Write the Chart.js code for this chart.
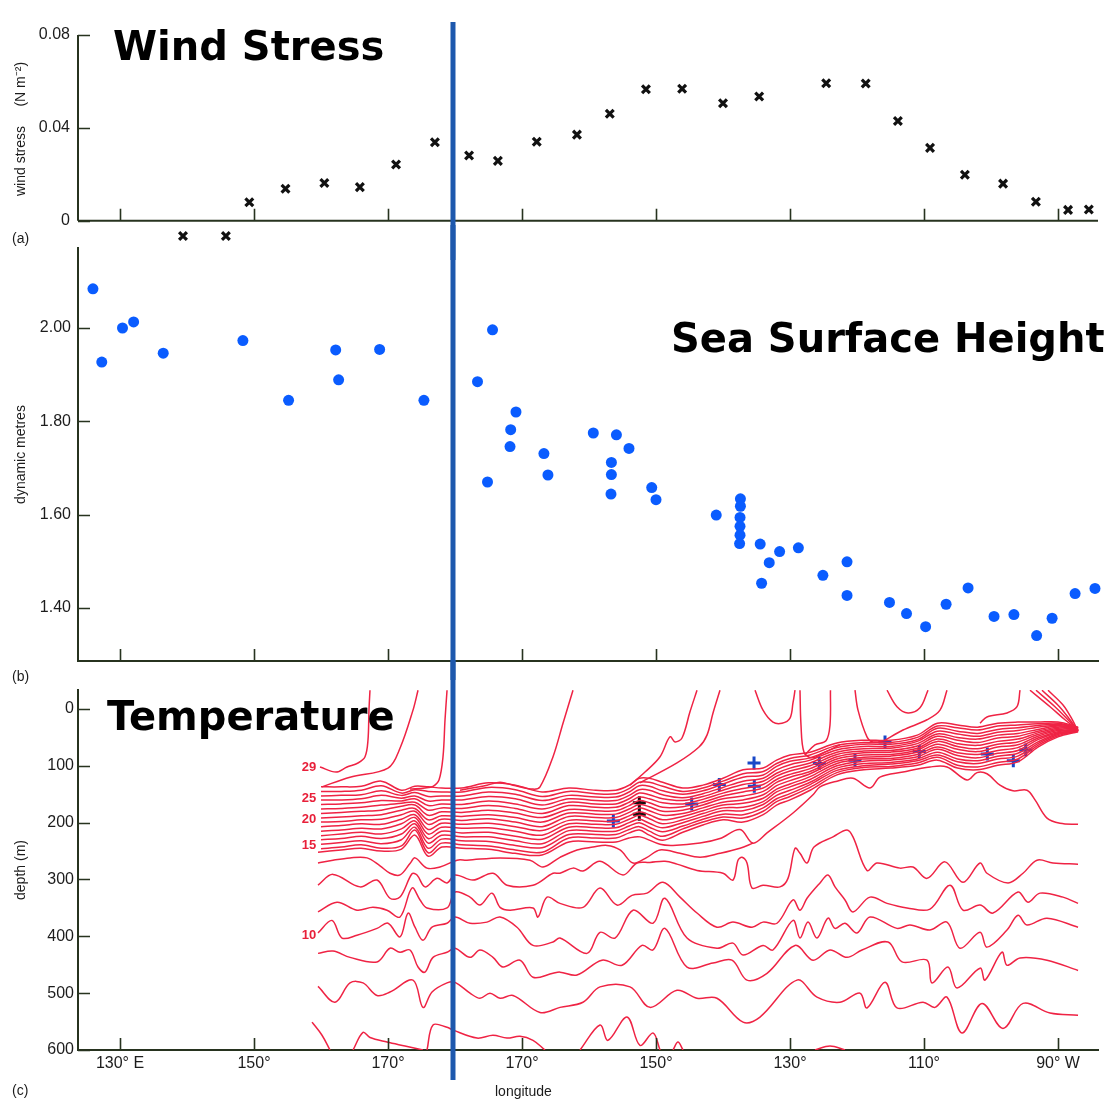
<!DOCTYPE html>
<html><head><meta charset="utf-8">
<script src="https://cdn.jsdelivr.net/npm/chart.js@4.4.1/dist/chart.umd.min.js"></script>
<style>
body{margin:0;background:#fff;}
#wrap{position:relative;width:1105px;height:1105px;overflow:hidden;background:#fff}
canvas{position:absolute;left:0}
.big{position:absolute;font-family:'DejaVu Sans',Verdana,sans-serif;font-weight:bold;font-size:40px;line-height:40px;color:#000;white-space:nowrap}
.sm{position:absolute;font-family:'Liberation Sans',Arial,sans-serif;font-size:14px;color:#1c1c1c;white-space:nowrap}
</style></head><body>
<div id="wrap">
<canvas id="cA" width="1105" height="260" style="top:0px"></canvas>
<canvas id="cB" width="1105" height="455" style="top:225px"></canvas>
<canvas id="cC" width="1105" height="445" style="top:660px"></canvas>
<div class="big" style="left:113px;top:26px">Wind Stress</div>
<div class="big" style="left:671px;top:318px">Sea Surface Height</div>
<div class="big" style="left:107px;top:696px">Temperature</div>
<div class="sm" style="left:12px;top:230px">(a)</div>
<div class="sm" style="left:12px;top:668px">(b)</div>
<div class="sm" style="left:12px;top:1082px">(c)</div>
<div class="sm" style="left:495px;top:1083px">longitude</div>
</div>
<script>
// ---------- axis definitions ----------
const lonTicks = [130,150,170,190,210,230,250,270];
const lonTickLabels = ['130° E','150°','170°','170°','150°','130°','110°','90° W'];
const windTicks = [0,0.04,0.08];
const sshTicks = [1.40,1.60,1.80,2.00];
const depthTicks = [0,100,200,300,400,500,600];
const dateLineLon = 179.7;

// ---------- (a) wind stress ----------
const windLon = [139.4,145.8,149.3,154.7,160.5,165.8,171.2,177.0,182.1,186.4,192.2,198.2,203.1,208.5,213.9,220.0,225.4,235.4,241.3,246.1,250.9,256.1,261.8,266.7,271.5,274.6];
const windStress = [-0.0065,-0.0065,0.0080,0.0138,0.0163,0.0145,0.0242,0.0338,0.0281,0.0258,0.0340,0.0371,0.0461,0.0566,0.0569,0.0506,0.0535,0.0592,0.0591,0.0430,0.0314,0.0198,0.0160,0.0082,0.0047,0.0049];

// ---------- (b) sea surface height ----------
const sshLon = [125.96,127.28,130.37,132.03,136.45,148.34,155.16,162.19,162.63,168.75,175.36,183.36,185.60,184.85,189.10,188.31,188.21,193.27,193.87,200.64,204.09,205.97,203.34,203.34,203.28,209.36,210.00,218.99,222.60,222.60,222.54,222.54,222.54,222.48,225.55,226.90,228.45,231.25,225.76,234.91,238.51,238.51,244.85,247.39,250.24,253.30,256.58,260.45,263.42,266.81,269.12,272.55,275.52];
const sshHeight = [2.084,1.927,2.000,2.013,1.946,1.973,1.845,1.953,1.889,1.954,1.845,1.885,1.996,1.670,1.820,1.782,1.746,1.731,1.685,1.775,1.771,1.742,1.712,1.686,1.644,1.658,1.632,1.599,1.634,1.618,1.594,1.575,1.556,1.538,1.537,1.497,1.521,1.529,1.453,1.470,1.499,1.427,1.412,1.388,1.360,1.408,1.443,1.382,1.386,1.341,1.378,1.431,1.442];

// ---------- (c) temperature: thermocline isotherms on a common longitude grid (depth m) ----------
const isoLon = [160,163,166,169,172,174,176,178,181,185,189,193,197,201,204,206,207.5,209,211,214,217,220,223,226,228,230,233,237,241,245,249,252,255,258,261,264,267,270,273];
const th0 = [137,137,136,127,143,136,137,139,139,130,134,146,139,143,143,134,122,122,129,139,134,122,107,104,90,81,76,60,55,55,46,25,28,32,25,23,23,23,32];
const th1 = [145,145,143,135,148,142,145,146,146,138,142,154,145,149,149,140,129,129,136,145,139,127,114,110,96,87,81,64,59,59,50,30,33,37,30,28,26,25,33];
const th2 = [153,152,151,144,152,147,154,153,153,146,150,161,152,155,155,146,135,136,144,150,144,132,120,116,101,92,86,68,62,62,54,34,39,43,36,33,29,27,33];
const th3 = [160,160,158,152,157,153,162,160,160,154,158,169,158,161,161,152,142,143,151,156,149,138,127,122,107,98,90,72,66,66,57,39,44,48,41,38,32,29,34];
const th4 = [168,167,165,161,162,158,170,167,168,162,167,176,164,167,167,158,148,151,158,161,154,143,133,127,113,104,95,76,70,69,61,44,50,53,46,43,36,30,34];
const th5 = [176,175,173,169,166,164,178,174,175,170,175,184,170,173,173,164,155,158,165,167,159,148,140,133,118,109,100,80,74,73,65,48,55,59,51,48,39,32,35];
const th6 = [184,182,180,178,171,169,187,181,182,178,183,191,177,179,179,170,161,165,173,172,164,153,146,139,124,115,105,84,77,76,69,53,61,64,57,53,42,34,35];
const th7 = [192,190,188,186,178,175,195,188,189,186,191,199,183,185,185,176,168,172,180,178,169,158,153,145,129,120,110,88,81,80,72,57,66,70,62,58,45,36,36];
const th8 = [199,198,195,194,186,180,203,194,196,193,199,207,189,191,191,182,174,179,187,184,174,164,160,151,135,126,114,92,85,83,76,62,71,75,67,63,48,38,37];
const th9 = [207,205,202,203,194,186,212,201,203,201,207,214,196,197,197,188,181,186,195,189,179,169,166,157,141,132,119,96,88,87,80,67,77,80,73,68,51,40,37];
const th10 = [215,213,210,211,202,191,220,208,210,209,215,222,202,203,203,194,187,193,202,195,184,174,173,163,146,137,124,100,92,90,84,71,82,86,78,73,54,42,38];
const th11 = [223,220,217,220,211,197,228,215,218,217,224,229,208,209,209,200,194,201,209,200,189,179,179,168,152,143,129,104,96,94,88,76,88,91,83,78,58,43,38];
const th12 = [230,228,224,228,220,202,236,222,225,225,232,237,214,215,215,206,200,208,216,206,194,185,186,174,158,149,133,108,100,97,91,81,93,96,88,83,61,45,39];
const th13 = [238,235,232,237,230,208,245,229,232,233,240,244,221,221,221,212,207,215,224,211,199,190,192,180,163,154,138,112,103,101,95,85,99,102,94,88,64,47,39];
const th14 = [246,243,239,245,241,213,253,236,239,241,248,252,227,227,227,218,213,222,231,217,204,195,199,186,169,160,143,116,107,104,99,90,104,107,99,93,67,49,40];

// deeper isotherms, [longitude, depth]
const deep1 = [[159.55,252],[162.99,248],[165.97,245],[168.96,250],[171.94,247],[174.03,222],[175.97,259],[178.06,243],[181.04,245],[185.07,247],[188.96,254],[192.99,257],[197.01,234],[201.04,234],[204.03,234],[205.97,227],[207.61,225],[210.6,238],[212.54,240],[216.57,236],[219.55,228],[222.54,212],[224.48,236],[226.57,218],[230.45,183],[233.43,151],[234.48,137],[237.01,127],[239.4,122],[241.94,139],[243.43,120],[246.87,111],[250.9,102],[253.43,102],[256.42,125],[257.91,112],[259.4,114],[261.34,134],[263.28,144],[265.37,143],[266.57,160],[268.36,192],[270.3,201],[272.99,203]];
const deep1b = [[159.55,271],[161.79,266],[164.33,262],[166.87,262],[168.81,276],[170.3,289],[171.79,292],[173.28,272],[174.03,262],[175.82,280],[177.76,278],[180.3,266],[181.79,266],[186.72,262],[191.19,266],[193.13,278],[195.67,261],[198.21,248],[200.6,243],[202.69,240],[204.63,248],[206.57,271],[208.66,261],[210.6,248],[213.58,254],[216.57,261],[219.55,254],[222.54,245],[224.48,236]];
const deep2 = [[159.55,310],[161.79,291],[165.82,313],[168.36,301],[170.3,333],[171.79,331],[173.58,290],[174.33,292],[175.52,313],[177.31,298],[178.81,306],[180.0,292],[182.69,301],[185.67,289],[187.76,310],[191.64,310],[194.63,289],[195.67,289],[197.61,280],[199.1,285],[201.64,268],[205.07,292],[207.16,271],[209.1,270],[211.34,268],[213.13,273],[216.12,284],[220.0,289],[221.49,301],[222.24,266],[222.84,261],[223.58,271],[224.33,315],[225.97,310],[228.51,313],[229.7,298],[230.75,245],[231.49,254],[232.54,271],[233.58,243],[236.42,225],[238.51,213],[239.4,225],[241.49,284],[242.99,271],[246.42,280],[248.36,278],[250.45,298],[253.13,269],[255.82,305],[258.36,271],[259.4,289],[262.54,306],[264.78,289],[266.87,266],[269.25,271],[272.99,273]];
const deep3 = [[159.55,357],[162.39,340],[165.37,354],[167.76,349],[169.85,354],[171.79,366],[173.58,315],[174.78,336],[175.82,350],[178.81,350],[180.0,322],[182.24,331],[183.73,345],[185.52,324],[186.72,349],[188.21,354],[191.64,350],[192.39,366],[193.73,331],[195.67,342],[199.1,349],[201.64,315],[204.18,345],[206.42,328],[208.66,324],[211.04,305],[213.58,331],[216.12,359],[219.1,384],[221.49,375],[224.33,384],[225.97,375],[228.06,377],[230.45,336],[231.49,354],[232.54,333],[234.48,306],[235.67,292],[236.72,313],[238.21,336],[239.4,357],[241.94,331],[244.48,342],[247.46,350],[250.9,352],[253.88,310],[255.82,354],[258.36,345],[260.3,359],[264.03,322],[265.52,340],[267.31,324],[270.75,331],[272.99,342]];
const deep4 = [[159.55,394],[161.64,372],[163.13,403],[165.37,398],[168.36,386],[170.0,377],[171.79,401],[172.99,359],[174.03,384],[175.22,407],[176.57,384],[178.81,377],[180.0,366],[182.24,377],[184.78,375],[186.72,366],[189.25,384],[191.64,416],[194.63,410],[195.67,403],[199.7,430],[201.64,393],[203.88,403],[206.57,354],[209.55,377],[211.34,333],[214.63,403],[219.1,421],[221.49,412],[222.99,433],[225.97,416],[227.46,424],[230.45,372],[231.49,403],[232.69,375],[234.03,403],[235.67,368],[236.72,386],[238.21,377],[240.0,394],[241.94,366],[245.97,386],[247.91,380],[250.9,389],[253.43,375],[255.37,421],[258.36,393],[259.4,419],[262.39,389],[264.03,363],[265.37,380],[268.36,368],[272.99,384]];
const deep5 = [[159.55,430],[161.79,426],[164.33,437],[168.36,445],[170.3,421],[171.79,428],[173.28,424],[174.48,454],[175.52,463],[176.72,437],[178.81,428],[180.0,421],[182.24,437],[183.73,424],[185.67,437],[187.16,454],[189.7,442],[191.64,472],[194.63,465],[195.67,463],[198.21,468],[201.94,442],[204.93,451],[207.91,416],[209.55,424],[211.34,386],[214.63,454],[218.51,447],[221.34,442],[223.58,477],[226.57,465],[230.75,416],[233.43,442],[235.97,424],[238.51,437],[240.75,424],[244.63,410],[246.72,445],[250.45,442],[251.19,482],[253.58,454],[254.93,491],[258.36,456],[259.1,477],[261.64,428],[262.39,451],[264.33,438],[268.36,442],[272.99,460]];
const deep6 = [[159.55,488],[162.09,516],[164.33,482],[166.27,482],[168.36,504],[170.3,498],[173.73,477],[175.22,525],[176.57,498],[178.81,482],[180.0,481],[182.24,500],[183.73,509],[185.22,500],[186.72,509],[188.66,504],[192.69,534],[195.67,525],[199.1,516],[201.64,489],[206.12,489],[209.1,525],[213.13,495],[216.12,509],[219.1,509],[222.99,551],[225.52,542],[231.04,477],[234.03,507],[237.46,516],[240.45,500],[241.49,526],[244.18,481],[245.97,526],[249.85,516],[251.64,525],[253.43,507],[255.67,570],[258.66,518],[261.79,562],[264.78,518],[268.81,535],[272.99,539]];
const bottom1 = [[158.66,551],[160.15,574],[161.34,600]];
const bottom2 = [[164.78,600],[166.27,569],[167.31,578],[169.85,586],[172.54,593],[175.22,600]];
const bottom3 = [[175.82,600],[176.72,556],[178.81,560],[179.7,565],[183.28,579],[185.67,574],[187.76,579],[189.7,576],[191.64,583],[193.43,600]];
const bottom4 = [[198.66,600],[201.64,556],[202.84,583],[205.67,542],[207.61,592],[209.55,570],[210.6,600]];
const bottom5 = [[212.54,600],[213.28,586],[214.03,600]];
const bottom6 = [[233.73,600],[235.97,593],[238.21,600]];

// warm isotherms rising to the surface, [longitude, depth]
const rise29 = [[159.85,102],[162.24,111],[163.88,102],[165.52,95],[166.57,84],[167.01,55],[167.16,2],[167.31,-33]];
const rise28 = [[160.15,137],[164.33,120],[170.0,104],[171.79,69],[173.73,2],[174.48,-33]];
const rise27 = [[173.28,141],[175.52,139],[176.72,136],[177.61,125],[178.21,84],[178.51,19],[178.81,-33]];
const rise26 = [[180.75,143],[184.78,134],[186.72,129],[188.66,134],[191.64,141],[192.69,137],[194.63,84],[196.12,25],[197.61,-33]];
const rise25 = [[206.12,134],[208.36,111],[210.6,84],[212.09,49],[212.84,58],[213.88,51],[215.07,5],[216.12,-33]];
const rise24 = [[207.61,130],[213.13,95],[216.42,67],[217.61,46],[218.51,7],[219.55,-33]];
const loop1 = [[224.78,-33],[225.97,2],[227.46,23],[228.81,25],[230.0,16],[230.45,-11],[230.75,-33]];
const rise23 = [[231.49,-33],[231.64,28],[232.09,76],[233.28,86],[235.22,76],[237.46,63]];
const rise22 = [[232.24,81],[233.73,63],[235.37,56],[235.97,28],[236.04,-33]];
const rise21 = [[239.7,-33],[240.15,2],[241.49,49],[242.39,58],[244.48,55]];
const loop2 = [[244.48,-33],[245.97,-4],[247.61,7],[249.4,-2],[250.6,-33]];
const rise20 = [[253.43,-33],[252.39,2],[250.45,19],[246.87,37],[244.18,55]];
const rise19 = [[264.33,-33],[263.88,-4],[262.39,7],[259.4,14],[258.36,25]];
const fan1 = [[265.82,-33],[268.81,-4],[271.04,19],[272.99,37]];
const fan2 = [[266.72,-33],[269.55,-4],[271.49,19],[272.99,37]];
const fan3 = [[267.61,-33],[270.15,-5],[271.79,19],[272.99,39]];
const fan4 = [[268.51,-33],[270.75,-7],[272.09,18],[272.99,39]];

// plus markers
const plusLon = [203.63,215.33,219.45,224.63,224.67,234.37,239.70,244.18,249.30,259.45,263.33,265.18];
const plusDepth = [197,167,133,95,136,96,90,58,75,79,91,72];
const blackPlusLon = [207.51,207.51];
const blackPlusDepth = [165,185];

// isotherm labels
const isoLabels = ['29','25','20','15','10'];
const isoLabelDepth = [102,157,195,240,398];
const isoLabelLon = 159.3;

// ---------- styling ----------
const X_MIN = 123.73, X_MAX = 275.97;
const AXIS = '#27331f';
const TXT = '#1c1c1c';
const RED = '#ef2344';
const TICKFONT = {family:"'Liberation Sans Narrow','Liberation Sans',Arial,sans-serif", size:16};
const TITLEFONT = {family:"'Liberation Sans',Arial,sans-serif", size:14};

function xScale(showLabels, h, border){
  return {type:'linear', position:'bottom', min:X_MIN, max:X_MAX,
    afterBuildTicks: s => { s.ticks = lonTicks.map(v => ({value:v})); },
    afterFit: s => { s.height = h; },
    grid:{display:false, drawTicks:false},
    border:{display:border, color:AXIS, width:2},
    ticks:{display:showLabels, autoSkip:false, maxRotation:0, minRotation:0, padding:4, color:TXT, font:TICKFONT,
      callback:(v,i)=>lonTickLabels[i]}
  };
}
function yScale(min, max, tickVals, fmt, title, pad, reverse, border){
  return {type:'linear', position:'left', min, max, reverse: !!reverse,
    afterBuildTicks: s => { s.ticks = tickVals.map(v => ({value:v})); },
    afterFit: s => { s.width = 78; },
    grid:{display:false, drawTicks:false},
    border:{display:border, color:AXIS, width:2},
    ticks:{padding:pad, color:TXT, font:TICKFONT, callback: fmt},
    title:{display:true, text:title, color:TXT, font:TITLEFONT, padding:{top:13,bottom:0}}
  };
}
// axis lines crossing at the zero of the wind-stress scale
const zeroAxes = { id:'zeroAxes', afterDraw(chart){
  const {ctx, chartArea:a, scales:{y}} = chart; const z = y.getPixelForValue(0);
  ctx.save(); ctx.strokeStyle = AXIS; ctx.lineWidth = 2; ctx.beginPath();
  ctx.moveTo(a.left, a.top); ctx.lineTo(a.left, z); ctx.moveTo(a.left, z); ctx.lineTo(a.right, z);
  ctx.stroke(); ctx.restore();
}};
const inwardTicks = { id:'inwardTicks', afterDraw(chart){
  const {ctx, chartArea:a, scales:{x,y}} = chart;
  const base = (y.min < 0 && !y.options.reverse) ? y.getPixelForValue(0) : a.bottom;
  ctx.save(); ctx.strokeStyle = AXIS; ctx.lineWidth = 1.6; ctx.beginPath();
  x.ticks.forEach(t => { const p = Math.round(x.getPixelForValue(t.value)) + 0.5; ctx.moveTo(p, base); ctx.lineTo(p, base - 12); });
  y.ticks.forEach(t => { const p = Math.round(y.getPixelForValue(t.value)) + 0.5; ctx.moveTo(a.left, p); ctx.lineTo(a.left + 12, p); });
  ctx.stroke(); ctx.restore();
}};
function dateLine(y0, y1){ return { id:'dateLine', afterDraw(chart){
  const {ctx, scales:{x}} = chart; const p = x.getPixelForValue(dateLineLon);
  ctx.save(); ctx.strokeStyle = '#1d58ad'; ctx.lineWidth = 5; ctx.beginPath();
  ctx.moveTo(p, y0); ctx.lineTo(p, y1 == null ? chart.height : y1); ctx.stroke(); ctx.restore();
}}; }
const isoLabelPlugin = { id:'isoLabels', afterDatasetsDraw(chart){
  const {ctx, scales:{x,y}} = chart;
  ctx.save(); ctx.fillStyle = '#e8203a'; ctx.font = "bold 13px 'Liberation Sans',Arial,sans-serif";
  ctx.textAlign = 'right'; ctx.textBaseline = 'middle';
  isoLabels.forEach((t,i) => ctx.fillText(t, x.getPixelForValue(isoLabelLon), y.getPixelForValue(isoLabelDepth[i])));
  ctx.restore();
}};
const common = { responsive:false, animation:false, devicePixelRatio:1, events:[],
  plugins:{legend:{display:false}, tooltip:{enabled:false}} };

// ---------- chart (a) ----------
new Chart(document.getElementById('cA'), {
  type:'scatter',
  data:{datasets:[{data: windLon.map((x,i)=>({x, y:windStress[i]})), pointStyle:'crossRot', pointRadius:5.5,
    borderWidth:3.2, borderColor:'#111', backgroundColor:'#111', clip:false}]},
  options:Object.assign({}, common, {
    layout:{autoPadding:false, padding:{left:0,right:7,top:35,bottom:0}},
    scales:{ x:xScale(false, 13, false),
      y:yScale(-0.0093, 0.08, windTicks, v => v === 0 ? '0' : v.toFixed(2), '     wind stress     (N m\u207B\u00B2)', 8, false, false) }
  }),
  plugins:[zeroAxes, inwardTicks, dateLine(22, null)]
});

// ---------- chart (b) ----------
new Chart(document.getElementById('cB'), {
  type:'scatter',
  data:{datasets:[{data: sshLon.map((x,i)=>({x, y:sshHeight[i]})), pointStyle:'circle', pointRadius:5.5,
    borderWidth:0, backgroundColor:'#0a5cff', borderColor:'#0a5cff', clip:false}]},
  options:Object.assign({}, common, {
    layout:{autoPadding:false, padding:{left:0,right:7,top:23,bottom:0}},
    scales:{ x:xScale(false, 19, true),
      y:yScale(1.2864, 2.1714, sshTicks, v => v.toFixed(2), 'dynamic metres', 7, false, true) }
  }),
  plugins:[inwardTicks, dateLine(0, null)]
});

// ---------- chart (c) ----------
function curve(points){ return {data: points.map(p => ({x:p[0], y:p[1]})), showLine:true, borderColor:RED,
  borderWidth:1.5, pointRadius:0, tension:0.35, fill:false}; }
function gridCurve(depths){ return curve(isoLon.map((x,i) => [x, depths[i]])); }
const tempSets = [
  ...[th0,th1,th2,th3,th4,th5,th6,th7,th8,th9,th10,th11,th12,th13,th14].map(gridCurve),
  ...[deep1,deep1b,deep2,deep3,deep4,deep5,deep6,bottom1,bottom2,bottom3,bottom4,bottom5,bottom6].map(curve),
  ...[rise29,rise28,rise27,rise26,rise25,rise24,loop1,rise23,rise22,rise21,loop2,rise20,rise19,fan1,fan2,fan3,fan4].map(curve),
  {data: plusLon.map((x,i)=>({x, y:plusDepth[i]})), pointStyle:'cross', pointRadius:6.5, borderWidth:3, borderColor:'#1848c8', showLine:false},
  {data: blackPlusLon.map((x,i)=>({x, y:blackPlusDepth[i]})), pointStyle:'cross', pointRadius:6.5, borderWidth:3, borderColor:'#111', showLine:false}
];
new Chart(document.getElementById('cC'), {
  type:'scatter',
  data:{datasets: tempSets},
  options:Object.assign({}, common, {
    layout:{autoPadding:false, padding:{left:0,right:7,top:30,bottom:0}},
    scales:{ x:xScale(true, 55, true),
      y:yScale(-33.4, 600, depthTicks, v => String(v), 'depth (m)', 4, true, true) }
  }),
  plugins:[isoLabelPlugin, inwardTicks, dateLine(0, 420)]
});
</script>
</body></html>
